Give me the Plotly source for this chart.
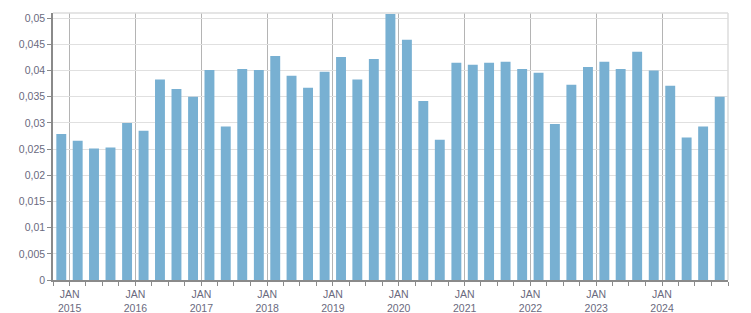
import pandas as pd
import plotly.graph_objects as go

quarters = ["2014Q4",
            "2015Q1", "2015Q2", "2015Q3", "2015Q4",
            "2016Q1", "2016Q2", "2016Q3", "2016Q4",
            "2017Q1", "2017Q2", "2017Q3", "2017Q4",
            "2018Q1", "2018Q2", "2018Q3", "2018Q4",
            "2019Q1", "2019Q2", "2019Q3", "2019Q4",
            "2020Q1", "2020Q2", "2020Q3", "2020Q4",
            "2021Q1", "2021Q2", "2021Q3", "2021Q4",
            "2022Q1", "2022Q2", "2022Q3", "2022Q4",
            "2023Q1", "2023Q2", "2023Q3", "2023Q4",
            "2024Q1", "2024Q2", "2024Q3", "2024Q4"]

values = [0.0279,
          0.0266, 0.0251, 0.0253, 0.0300,
          0.0285, 0.0383, 0.0365, 0.0350,
          0.0401, 0.0293, 0.0403, 0.0401,
          0.0428, 0.0390, 0.0367, 0.0398,
          0.0426, 0.0383, 0.0422, 0.0508,
          0.0459, 0.0342, 0.0268, 0.0415,
          0.0411, 0.0415, 0.0417, 0.0403,
          0.0396, 0.0298, 0.0373, 0.0407,
          0.0417, 0.0403, 0.0436, 0.0400,
          0.0371, 0.0272, 0.0293, 0.0350]

ytick_vals = [0, 0.005, 0.01, 0.015, 0.02, 0.025, 0.03, 0.035, 0.04, 0.045, 0.05]
ytick_text = ["0", "0,005", "0,01", "0,015", "0,02", "0,025", "0,03", "0,035", "0,04", "0,045", "0,05"]

years = list(range(2015, 2025))
xtick_vals = [f"{y}-01-01" for y in years]
xtick_text = [f"JAN<br>{y}" for y in years]

# mid-quarter dates for bar centres
periods = pd.PeriodIndex(quarters, freq="Q")
x_mid = [p.start_time + (p.end_time - p.start_time) / 2 for p in periods]

BAR_COLOR = "#78b0d2"
TEXT_COLOR = "#6a6a7e"
FONT = "Liberation Sans, Arial, sans-serif"

fig = go.Figure(go.Bar(
    x=x_mid,
    y=values,
    width=55 * 24 * 3600 * 1000,
    marker=dict(color=BAR_COLOR, line=dict(width=0)),
    hoverinfo="x+y",
))

fig.update_layout(
    width=751, height=313,
    margin=dict(l=53, r=23, t=13, b=33),
    paper_bgcolor="white",
    plot_bgcolor="white",
    showlegend=False,
    font=dict(family=FONT, size=10.5, color=TEXT_COLOR),
    xaxis=dict(
        type="date",
        range=["2014-10-01", "2025-01-01"],
        tickvals=xtick_vals,
        ticktext=xtick_text,
        automargin=False,
        showgrid=True,
        gridcolor="#b4b4b4",
        gridwidth=1,
        showline=True,
        linecolor="#8a8a8a",
        linewidth=1.5,
        ticks="outside",
        ticklen=4,
        tickcolor="#8a8a8a",
        minor=dict(dtick="M3", tick0="2015-01-01", ticks="outside", ticklen=4,
                   tickcolor="#8a8a8a", showgrid=False),
        zeroline=False,
        fixedrange=True,
    ),
    yaxis=dict(
        range=[0, 0.051],
        tickvals=ytick_vals,
        ticktext=ytick_text,
        automargin=False,
        showgrid=True,
        gridcolor="#e0e0e0",
        gridwidth=1,
        showline=True,
        linecolor="#8a8a8a",
        linewidth=1.5,
        ticks="outside",
        ticklen=4,
        tickcolor="#8a8a8a",
        zeroline=False,
        fixedrange=True,
    ),
    shapes=[
        dict(type="line", xref="paper", yref="paper", x0=0, x1=1, y0=1, y1=1,
             line=dict(color="#dcdcdc", width=1.5), layer="above"),
        dict(type="line", xref="paper", yref="paper", x0=1, x1=1, y0=0, y1=1,
             line=dict(color="#dcdcdc", width=1.5), layer="above"),
    ],
)

fig.write_html("out.html")
